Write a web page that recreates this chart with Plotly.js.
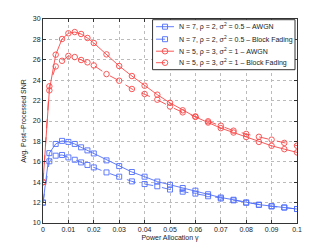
<!DOCTYPE html>
<html>
<head>
<meta charset="utf-8">
<script src="https://cdn.plot.ly/plotly-3.0.1.min.js"></script>
<style>html,body{margin:0;padding:0;background:#fff;}#chart{width:329px;height:252px;}</style>
</head>
<body>
<div id="chart"></div>
<script>
// Power allocation gamma
const gamma = [0, 0.0025, 0.005, 0.0075, 0.01, 0.0125, 0.015, 0.0175, 0.02, 0.025, 0.03, 0.035, 0.04, 0.045, 0.05, 0.055, 0.06, 0.065, 0.07, 0.075, 0.08, 0.085, 0.09, 0.095, 0.1];

const blueAWGN  = [12.0, 16.85, 17.75, 18.05, 17.95, 17.75, 17.42, 17.12, 16.82, 16.14, 15.58, 15.0, 14.54, 14.06, 13.75, 13.43, 13.17, 12.82, 12.5, 12.28, 12.02, 11.8, 11.66, 11.52, 11.37];
const blueBlock = [12.0, 16.05, 16.6, 16.67, 16.43, 16.2, 15.94, 15.69, 15.45, 14.96, 14.54, 14.08, 13.82, 13.6, 13.28, 13.07, 12.88, 12.62, 12.4, 12.22, 11.98, 11.77, 11.62, 11.52, 11.37];
const redAWGN   = [14.0, 23.0, 26.5, 28.04, 28.6, 28.72, 28.53, 28.14, 27.65, 26.53, 25.39, 24.41, 23.46, 22.58, 21.78, 21.05, 20.4, 19.85, 19.3, 18.87, 18.43, 17.95, 17.57, 17.24, 16.92];
const redBlock  = [14.0, 23.4, 25.35, 25.9, 26.38, 26.27, 25.98, 25.75, 25.45, 24.6, 23.95, 23.14, 22.65, 22.09, 21.42, 20.85, 20.45, 19.97, 19.54, 19.05, 18.73, 18.45, 18.17, 17.85, 17.58];

const names = [
  'N = 7, ρ = 2, σ<sup>2</sup> = 0.5 – AWGN',
  'N = 7, ρ = 2, σ<sup>2</sup> = 0.5 – Block Fading',
  'N = 5, ρ = 3, σ<sup>2</sup> = 1 – AWGN',
  'N = 5, ρ = 3, σ<sup>2</sup> = 1 – Block Fading'
];

const blue = 'rgb(80,110,250)';
const red = 'rgb(250,70,70)';
const colors = [blue, blue, red, red];
const dashes = ['solid', 'dash', 'solid', 'dash'];
const symbols = ['square-open', 'square-open', 'circle-open', 'circle-open'];
const series = [blueAWGN, blueBlock, redAWGN, redBlock];

const data = series.map((y, i) => ({
  x: gamma, y: y, name: names[i], type: 'scatter', mode: 'lines+markers',
  showlegend: false,
  line: {color: colors[i], width: 0.9, dash: dashes[i]},
  marker: {symbol: symbols[i], size: i < 2 ? 5 : 5.5, color: colors[i], line: {color: colors[i], width: 0.9}}
}));

// plot area in pixels
const L = 42.5, R = 297.5, T = 19.3, B = 223.3;
const px = v => (v - L) / (R - L);
const py = v => (B - v) / (B - T);

// custom legend (box, line samples, markers, labels)
const shapes = [{
  type: 'rect', xref: 'paper', yref: 'paper',
  x0: px(152.5), x1: px(295.5), y0: py(70), y1: py(20),
  line: {color: '#333', width: 1}, fillcolor: '#fff', layer: 'above'
}];
const annotations = [];
const rowsY = [27, 39.5, 51.5, 63];
rowsY.forEach((ry, i) => {
  shapes.push({
    type: 'line', xref: 'paper', yref: 'paper',
    x0: px(156), x1: px(174), y0: py(ry), y1: py(ry),
    line: {color: colors[i], width: 0.9, dash: dashes[i] === 'dash' ? 'dash' : 'solid'}, layer: 'above'
  });
  const r = i < 2 ? 2.5 : 2.8;
  shapes.push({
    type: i < 2 ? 'rect' : 'circle', xref: 'paper', yref: 'paper',
    xsizemode: 'pixel', ysizemode: 'pixel', xanchor: px(165), yanchor: py(ry),
    x0: -r, x1: r, y0: -r, y1: r,
    line: {color: colors[i], width: 0.9}, fillcolor: 'rgba(0,0,0,0)', layer: 'above'
  });
  annotations.push({
    xref: 'paper', yref: 'paper', x: px(177), y: py(ry), xanchor: 'left', yanchor: 'middle',
    text: names[i], showarrow: false, font: {size: 7, color: '#222'}
  });
});

const axisCommon = {
  showline: true, linecolor: '#333', linewidth: 1, mirror: 'ticks',
  ticks: 'inside', ticklen: 3, tickcolor: '#333',
  showgrid: true, gridcolor: '#bbb', griddash: 'dot', gridwidth: 1,
  zeroline: false, tickfont: {size: 7, color: '#222'}
};

const layout = {
  width: 329, height: 252,
  margin: {l: L, r: 329 - R, t: T, b: 252 - B},
  paper_bgcolor: '#fff', plot_bgcolor: '#fff',
  font: {family: 'Liberation Sans, Arial, sans-serif', size: 7, color: '#222'},
  xaxis: Object.assign({}, axisCommon, {
    range: [0, 0.1], dtick: 0.01, tick0: 0,
    title: {text: 'Power Allocation γ', font: {size: 7}, standoff: 2}
  }),
  yaxis: Object.assign({}, axisCommon, {
    range: [10, 30], dtick: 2, tick0: 10,
    title: {text: 'Avg. Post−Processed SNR', font: {size: 7}, standoff: 5}
  }),
  showlegend: false,
  shapes: shapes,
  annotations: annotations
};

Plotly.newPlot('chart', data, layout, {displayModeBar: false, staticPlot: true});
</script>
</body>
</html>
